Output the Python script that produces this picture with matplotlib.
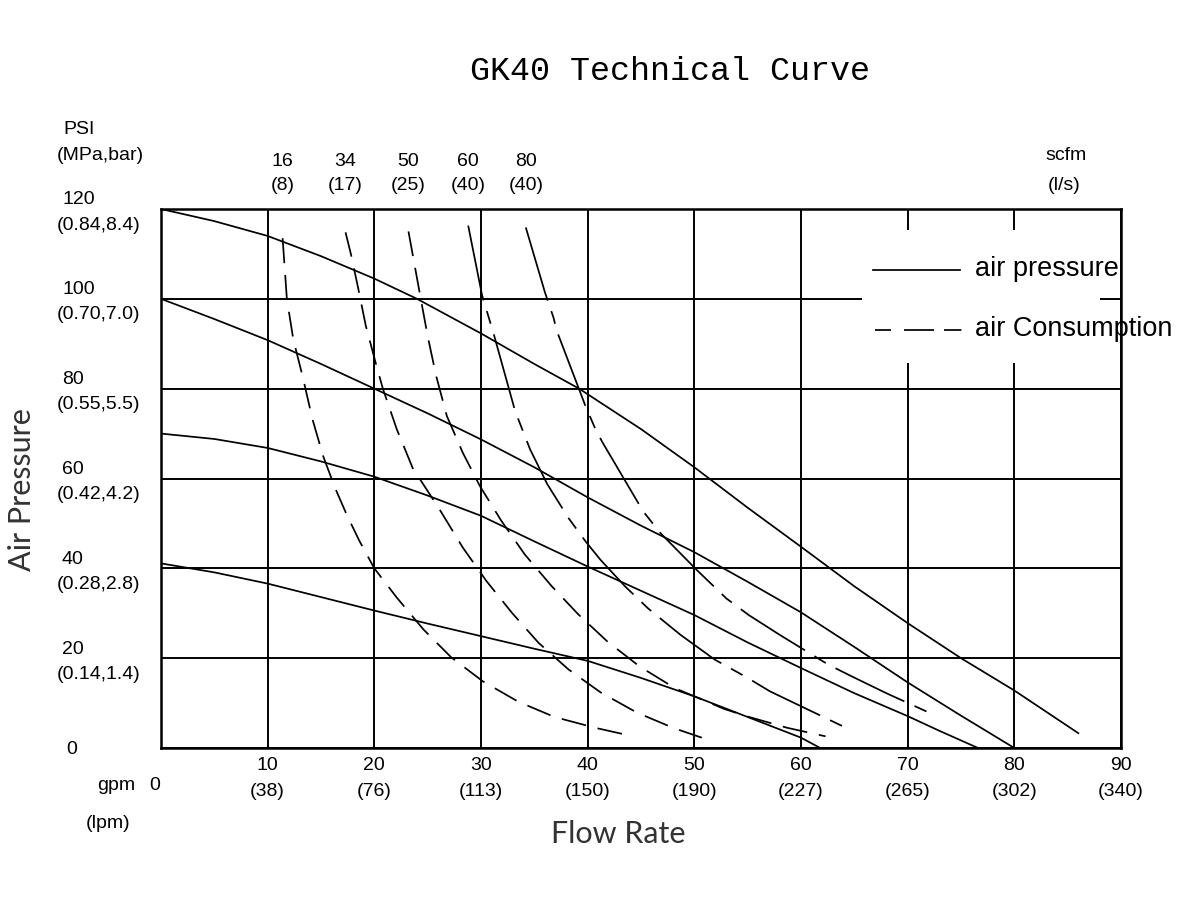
import matplotlib
matplotlib.use("Agg")
import matplotlib.pyplot as plt
from matplotlib import font_manager
from matplotlib.patches import Rectangle

# ---- data ----
gpm_ticks = [0, 10, 20, 30, 40, 50, 60, 70, 80, 90]
lpm_labels = ["", "(38)", "(76)", "(113)", "(150)", "(190)", "(227)", "(265)", "(302)", "(340)"]
psi_ticks = [0, 20, 40, 60, 80, 100, 120]
mpa_labels = ["", "(0.14,1.4)", "(0.28,2.8)", "(0.42,4.2)", "(0.55,5.5)", "(0.70,7.0)", "(0.84,8.4)"]

# air pressure curves (solid)
p120_gpm = [0, 5, 10, 15, 20, 24, 30, 35, 39.2, 45, 50, 55, 60, 65, 70, 75, 80, 86]
p120_psi = [120, 117.3, 114, 109.5, 104.5, 100, 92.3, 85.5, 80, 71, 62.5, 53.5, 44.8, 36, 27.8, 20, 12.8, 3.3]
p100_gpm = [0, 5, 10, 15, 20, 25, 30, 35, 40, 45, 50, 55, 60, 65, 70, 75, 80]
p100_psi = [100, 95.5, 90.8, 85.5, 80, 74.5, 68.7, 62.5, 55.8, 49.5, 43.6, 37, 30.2, 22.5, 14.6, 7.2, 0]
p70_gpm = [0, 5, 10, 15, 20, 25, 30, 35, 40, 45, 50, 55, 60, 65, 70, 73, 76.6]
p70_psi = [70, 68.8, 66.8, 63.8, 60.4, 56.2, 51.7, 46, 40.4, 35, 29.6, 23.5, 17.8, 12.2, 7.1, 3.8, 0]
p40_gpm = [0, 5, 10, 15, 20, 25, 30, 35, 40, 45, 50, 55, 60, 61.8]
p40_psi = [41.1, 39.1, 36.6, 33.6, 30.6, 27.7, 24.9, 22.1, 19.4, 15.6, 11.5, 6.9, 2.3, 0]

# air consumption curves (dashed), scfm (l/s)
c16_gpm = [11.4, 11.8, 12.4, 13.3, 14.2, 15.2, 16.3, 17.4, 18.6, 20, 22.1, 24.6, 27.2, 30.2, 33.5, 36.9, 40.7, 43.7]
c16_psi = [113.5, 100, 91, 82.5, 73.2, 65, 58, 52, 46.1, 40, 33.5, 26.4, 20.2, 14.8, 10.3, 6.9, 4.5, 2.9]
c34_gpm = [17.3, 17.8, 18.5, 19.2, 20.2, 20.8, 22.1, 23.6, 25.0, 26.3, 28.3, 30.5, 32.9, 35.4, 38.2, 41.2, 44.6, 48.1, 50.7]
c34_psi = [114.8, 110, 102.2, 94, 85.1, 80, 71, 62.3, 57.2, 52.4, 44.6, 37.2, 30.1, 23.4, 17.5, 12.4, 7.9, 4.4, 2.3]
c50_gpm = [23.2, 24.3, 25.0, 25.8, 26.8, 28.3, 29.9, 31.9, 34.1, 36.6, 39.1, 41.9, 44.9, 48.2, 50, 52.8, 55, 58.7, 62.3]
c50_psi = [115, 100.7, 91.7, 82.8, 73.9, 65.7, 58.3, 50.6, 43.1, 36.1, 29.8, 23.6, 18.1, 13.3, 11.5, 8.7, 7, 4.5, 2.6]
c60_gpm = [28.8, 30.1, 31.2, 33.2, 34.6, 36.2, 38.2, 39.8, 41.2, 43.5, 45.7, 48.7, 51.9, 55, 57.1, 60, 64.3]
c60_psi = [116.3, 100.8, 92.1, 75, 66.5, 58.8, 51.2, 46, 41.9, 36, 31, 25.2, 19.7, 15.6, 12.6, 9.3, 4.4]
c80_gpm = [34.2, 36, 36.8, 37.1, 39.8, 40.8, 41.4, 45.2, 46.8, 50.2, 53, 55.1, 58, 62.6, 64.8, 68, 71.8]
c80_psi = [115.9, 101.4, 95.8, 92.9, 76.1, 70.6, 68, 52.7, 47.9, 39.7, 33.3, 29.6, 25.2, 18.5, 15.9, 12.2, 8.1]

scfm_labels = ["16", "34", "50", "60", "80"]
ls_labels = ["(8)", "(17)", "(25)", "(40)", "(40)"]

# ---- fonts ----
names = {f.name for f in font_manager.fontManager.ttflist}
NARROW = "Liberation Sans Narrow" if "Liberation Sans Narrow" in names else "Liberation Sans"
LEG_SIZE = 23 if NARROW == "Liberation Sans Narrow" else 19.5

plt.rcParams["lines.scale_dashes"] = False

fig = plt.figure(figsize=(12, 9), dpi=100)
ax = fig.add_axes([161 / 1200, 1 - 748 / 900, 960 / 1200, 539 / 900])
ax.set_xlim(0, 90)
ax.set_ylim(0, 120)
ax.set_xticks(gpm_ticks)
ax.set_yticks(psi_ticks)
ax.tick_params(length=0, labelbottom=False, labelleft=False)
ax.grid(True, color="black", lw=1.4)
ax.set_axisbelow(True)
for s in ax.spines.values():
    s.set_linewidth(1.8)
    s.set_zorder(5)

# pressure curves
for g, p in [(p120_gpm, p120_psi), (p100_gpm, p100_psi), (p70_gpm, p70_psi), (p40_gpm, p40_psi)]:
    ax.plot(g, p, color="black", lw=1.25, solid_joinstyle="round")

# consumption curves
short_dash = (0, (18, 8.6))
long_short = (0, (55, 8, 9.5, 8))
consumption = [(c16_gpm, c16_psi, short_dash), (c34_gpm, c34_psi, short_dash),
               (c50_gpm, c50_psi, short_dash), (c60_gpm, c60_psi, long_short),
               (c80_gpm, c80_psi, long_short)]
for g, p, ls in consumption:
    ax.plot(g, p, color="black", lw=1.25, ls=ls)

tk = dict(family=NARROW, fontsize=14, color="black", annotation_clip=False)

# x tick labels
for g, lab in zip(gpm_ticks[1:], lpm_labels[1:]):
    ax.annotate(str(g), xy=(g, 0), xytext=(0, -18), textcoords="offset pixels", ha="center", va="center", **tk)
    ax.annotate(lab, xy=(g, 0), xytext=(0, -43), textcoords="offset pixels", ha="center", va="center", **tk)
ax.annotate("0", xy=(0, 0), xytext=(-6, -38), textcoords="offset pixels", ha="center", va="center", **tk)
ax.annotate("gpm", xy=(0, 0), xytext=(-45, -38), textcoords="offset pixels", ha="center", va="center", **tk)
ax.annotate("(lpm)", xy=(0, 0), xytext=(-53, -75), textcoords="offset pixels", ha="center", va="center", **tk)

# y tick labels
for p, lab in zip(psi_ticks[1:], mpa_labels[1:]):
    ax.annotate(str(p), xy=(0, p), xytext=(-99, 9), textcoords="offset pixels", ha="left", va="center", **tk)
    ax.annotate(lab, xy=(0, p), xytext=(-104, -16), textcoords="offset pixels", ha="left", va="center", **tk)
ax.annotate("0", xy=(0, 0), xytext=(-89, -2), textcoords="offset pixels", ha="center", va="center", **tk)
ax.annotate("PSI", xy=(0, 120), xytext=(-98, 80), textcoords="offset pixels", ha="left", va="center", **tk)
ax.annotate("(MPa,bar)", xy=(0, 120), xytext=(-104, 54), textcoords="offset pixels", ha="left", va="center", **tk)

# consumption labels above each dashed curve
for (g, p, _), s, l in zip(consumption, scfm_labels, ls_labels):
    ax.annotate(s, xy=(g[0], 120), xytext=(0, 48), textcoords="offset pixels", ha="center", va="center", **tk)
    ax.annotate(l, xy=(g[0], 120), xytext=(0, 23), textcoords="offset pixels", ha="center", va="center", **tk)
ax.annotate("scfm", xy=(0.943, 1), xycoords="axes fraction", xytext=(0, 54), textcoords="offset pixels",
            ha="center", va="center", **tk)
ax.annotate("(l/s)", xy=(0.941, 1), xycoords="axes fraction", xytext=(0, 23), textcoords="offset pixels",
            ha="center", va="center", **tk)

# legend (white patch over grid, text runs past the frame)
ax.add_patch(Rectangle((0.730, 0.714), 0.248, 0.247, transform=ax.transAxes,
                       facecolor="white", edgecolor="none", zorder=4))
ax.plot([0.742, 0.832], [0.887, 0.887], transform=ax.transAxes, color="black", lw=1.25, zorder=6)
ax.plot([0.744, 0.834], [0.7755, 0.7755], transform=ax.transAxes, color="black", lw=1.25,
        ls=(0, (11.5, 9.4, 21.6, 7.2, 12.5, 60)), zorder=6)
ax.text(0.848, 0.889, "air pressure", transform=ax.transAxes, family=NARROW, fontsize=LEG_SIZE,
        ha="left", va="center", zorder=4.5, clip_on=False)
ax.text(0.848, 0.777, "air Consumption", transform=ax.transAxes, family=NARROW, fontsize=LEG_SIZE,
        ha="left", va="center", zorder=4.5, clip_on=False)

# titles
fig.text(670 / 1200, 1 - 72 / 900, "GK40 Technical Curve", family="Liberation Mono", fontsize=24,
         ha="center", va="center")
fig.text(22 / 1200, 1 - 490 / 900, "Air Pressure", family="Lato", fontsize=22,
         rotation=90, ha="center", va="center", color="#333333")
fig.text(618 / 1200, 1 - 834 / 900, "Flow Rate", family="Lato", fontsize=22,
         ha="center", va="center", color="#333333")

fig.savefig("out.png", dpi=100, facecolor="white")
